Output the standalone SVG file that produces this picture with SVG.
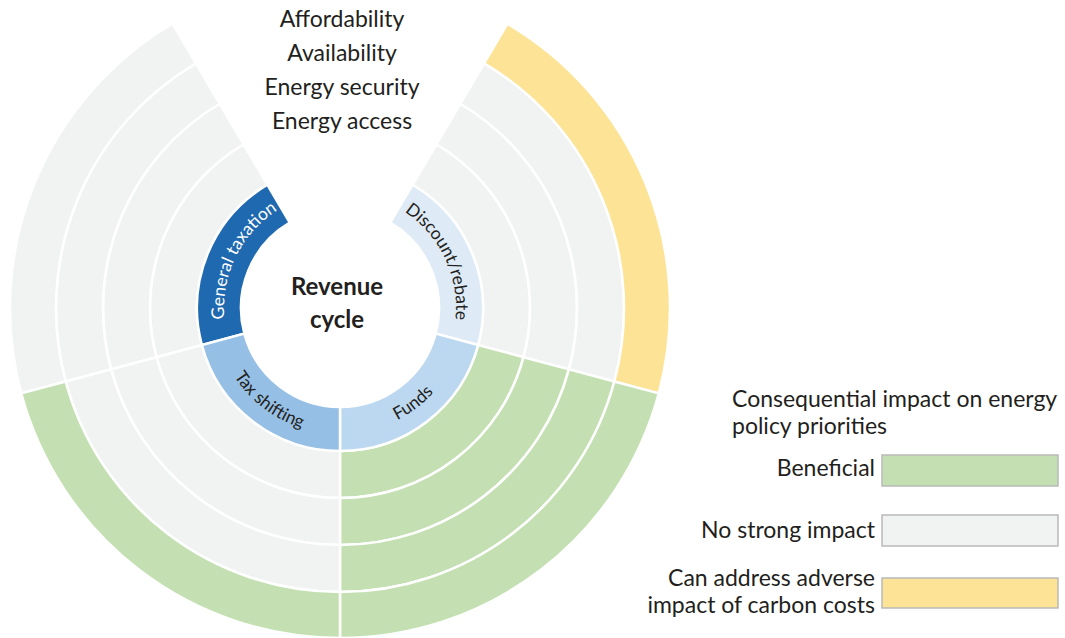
<svg xmlns="http://www.w3.org/2000/svg" width="1065" height="638" viewBox="0 0 1065 638">
<style>
.seg{stroke:#ffffff;stroke-width:2.5;stroke-linejoin:miter}
.gray{fill:#f1f2f2}
.green{fill:#c4e0b2}
.yellow{fill:#fde395}
.lbl{font-family:Lato,"Open Sans","Liberation Sans",sans-serif;fill:#231f20}
.top{font-size:23px;text-anchor:middle}
.ring{font-size:17.5px}
.leg{font-size:23px}
.box{stroke:#b9b9b9;stroke-width:1.5}
</style>
<defs>
<path id="pGT" d="M227.95,338.02 A116,116 0 0 1 281.13,208.05"/>
<path id="pDR" d="M398.87,208.05 A116,116 0 0 1 452.05,338.02"/>
<path id="pTS" d="M218.29,340.61 A126,126 0 0 0 340,434"/>
<path id="pFU" d="M340,434 A126,126 0 0 0 461.71,340.61"/>
</defs>
<rect width="1065" height="638" fill="#ffffff"/>

<g id="outer-rings">
<g id="ring1">
<path class="seg gray" d="M156.47,357.18 A190,190 0 0 1 243.57,144.29 L267.42,184.79 A143,143 0 0 0 201.87,345.01 Z"/>
<path class="seg gray" d="M436.43,144.29 A190,190 0 0 1 523.53,357.18 L478.13,345.01 A143,143 0 0 0 412.58,184.79 Z"/>
<path class="seg green" d="M523.53,357.18 A190,190 0 0 1 340,498 L340,451 A143,143 0 0 0 478.13,345.01 Z"/>
<path class="seg gray" d="M340,498 A190,190 0 0 1 156.47,357.18 L201.87,345.01 A143,143 0 0 0 340,451 Z"/>
</g>
<g id="ring2">
<path class="seg gray" d="M111.08,369.34 A237,237 0 0 1 219.71,103.79 L243.57,144.29 A190,190 0 0 0 156.47,357.18 Z"/>
<path class="seg gray" d="M460.29,103.79 A237,237 0 0 1 568.92,369.34 L523.53,357.18 A190,190 0 0 0 436.43,144.29 Z"/>
<path class="seg green" d="M568.92,369.34 A237,237 0 0 1 340,545 L340,498 A190,190 0 0 0 523.53,357.18 Z"/>
<path class="seg gray" d="M340,545 A237,237 0 0 1 111.08,369.34 L156.47,357.18 A190,190 0 0 0 340,498 Z"/>
</g>
<g id="ring3">
<path class="seg gray" d="M65.68,381.50 A284,284 0 0 1 195.86,63.30 L219.71,103.79 A237,237 0 0 0 111.08,369.34 Z"/>
<path class="seg gray" d="M484.14,63.30 A284,284 0 0 1 614.32,381.50 L568.92,369.34 A237,237 0 0 0 460.29,103.79 Z"/>
<path class="seg green" d="M614.32,381.50 A284,284 0 0 1 340,592 L340,545 A237,237 0 0 0 568.92,369.34 Z"/>
<path class="seg gray" d="M340,592 A284,284 0 0 1 65.68,381.50 L111.08,369.34 A237,237 0 0 0 340,545 Z"/>
</g>
<g id="ring4">
<path class="seg gray" d="M21.24,393.41 A330,330 0 0 1 172.51,23.66 L195.86,63.30 A284,284 0 0 0 65.68,381.50 Z"/>
<path class="seg yellow" d="M507.49,23.66 A330,330 0 0 1 658.76,393.41 L614.32,381.50 A284,284 0 0 0 484.14,63.30 Z"/>
<path class="seg green" d="M658.76,393.41 A330,330 0 0 1 340,638 L340,592 A284,284 0 0 0 614.32,381.50 Z"/>
<path class="seg green" d="M340,638 A330,330 0 0 1 21.24,393.41 L65.68,381.50 A284,284 0 0 0 340,592 Z"/>
</g>
</g>

<g id="general-taxation">
<path class="seg" fill="#1f69b1" d="M201.87,345.01 A143,143 0 0 1 267.42,184.79 L289.75,222.70 A99,99 0 0 0 244.37,333.62 Z"/>
<text class="lbl ring" style="fill:#ffffff"><textPath href="#pGT" startOffset="55%" text-anchor="middle">General taxation</textPath></text>
</g>
<g id="discount-rebate">
<path class="seg" fill="#deeaf6" d="M412.58,184.79 A143,143 0 0 1 478.13,345.01 L435.63,333.62 A99,99 0 0 0 390.25,222.70 Z"/>
<text class="lbl ring"><textPath href="#pDR" startOffset="46%" text-anchor="middle">Discount/rebate</textPath></text>
</g>
<g id="funds">
<path class="seg" fill="#bcd8f0" d="M478.13,345.01 A143,143 0 0 1 340,451 L340,407 A99,99 0 0 0 435.63,333.62 Z"/>
<text class="lbl ring"><textPath href="#pFU" startOffset="50%" text-anchor="middle">Funds</textPath></text>
</g>
<g id="tax-shifting">
<path class="seg" fill="#96bfe5" d="M340,451 A143,143 0 0 1 201.87,345.01 L244.37,333.62 A99,99 0 0 0 340,407 Z"/>
<text class="lbl ring"><textPath href="#pTS" startOffset="50%" text-anchor="middle">Tax shifting</textPath></text>
</g>

<g id="revenue-cycle">
<text class="lbl" x="337" y="295" font-size="24" font-weight="700" text-anchor="middle">Revenue</text>
<text class="lbl" x="337" y="328" font-size="24" font-weight="700" text-anchor="middle">cycle</text>
</g>

<g id="priorities">
<text class="lbl top" x="342" y="27">Affordability</text>
<text class="lbl top" x="342" y="61">Availability</text>
<text class="lbl top" x="342" y="95">Energy security</text>
<text class="lbl top" x="342" y="129">Energy access</text>
</g>

<g id="legend">
<text class="lbl leg" x="732" y="407">Consequential impact on energy</text>
<text class="lbl leg" x="732" y="434">policy priorities</text>
<g id="legend-beneficial">
<text class="lbl leg" x="875" y="476" text-anchor="end">Beneficial</text>
<rect class="box green" x="882" y="455" width="176" height="31"/>
</g>
<g id="legend-no-impact">
<text class="lbl leg" x="875" y="538" text-anchor="end">No strong impact</text>
<rect class="box gray" x="882" y="515" width="176" height="31"/>
</g>
<g id="legend-carbon">
<text class="lbl leg" x="875" y="586" text-anchor="end">Can address adverse</text>
<text class="lbl leg" x="875" y="613" text-anchor="end">impact of carbon costs</text>
<rect class="box yellow" x="882" y="578" width="176" height="30"/>
</g>
</g>
<g id="connectors"/>
</svg>
